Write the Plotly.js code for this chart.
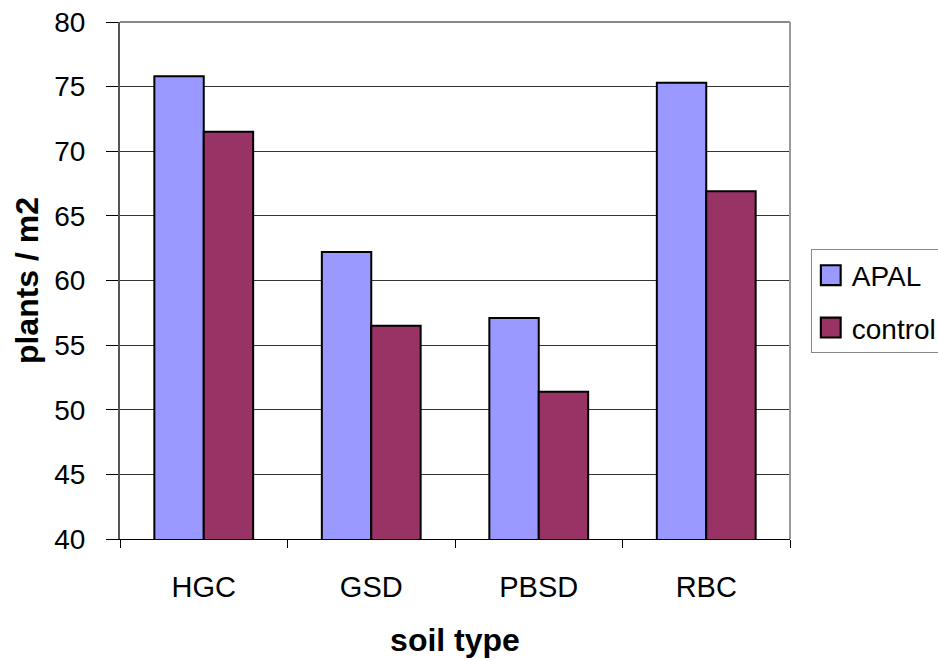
<!DOCTYPE html>
<html><head><meta charset="utf-8">
<script src="https://cdn.plot.ly/plotly-3.0.1.min.js"></script>
<style>body{margin:0;background:#fff}#c{width:938px;height:660px}</style>
</head><body><div id="c"></div>
<script>
const categories = ["HGC", "GSD", "PBSD", "RBC"];
const apal = [75.8, 62.2, 57.1, 75.3];
const control = [71.5, 56.5, 51.4, 66.9];
const seriesNames = ["APAL", "control"];

const font = {family: "Liberation Sans, Arial, sans-serif", color: "#000"};
const data = [
  {type: "bar", x: categories, y: apal, name: seriesNames[0], legendgroup: "g1",
   marker: {color: "#9999ff", line: {color: "#000", width: 2}}},
  {type: "bar", x: categories, y: control, name: seriesNames[1], legendgroup: "g2",
   marker: {color: "#993366", line: {color: "#000", width: 2}}}
];
const layout = {
  width: 938, height: 660,
  margin: {l: 120, r: 148, t: 22, b: 121, autoexpand: false},
  paper_bgcolor: "#fff", plot_bgcolor: "#fff",
  font: Object.assign({size: 28}, font),
  barmode: "group", bargap: 0.41, bargroupgap: 0,
  xaxis: {
    type: "category", tickson: "boundaries", ticks: "outside", ticklen: 8,
    tickcolor: "#000", showline: true, linecolor: "#000", linewidth: 1,
    mirror: false, showgrid: false, ticklabelstandoff: 22,
    tickfont: Object.assign({size: 29}, font),
    title: {text: "<b>soil type</b>", font: Object.assign({size: 32}, font), standoff: 26}
  },
  yaxis: {
    range: [40, 80], dtick: 5, ticks: "outside", ticklen: 12, tickcolor: "#000",
    showline: true, linecolor: "#555", linewidth: 2, mirror: false,
    showgrid: true, gridcolor: "#333", gridwidth: 1, zeroline: false,
    ticklabelstandoff: 15,
    tickfont: Object.assign({size: 28}, font),
    title: {text: "<b>plants / m2</b>", font: Object.assign({size: 32}, font), standoff: 6}
  },
  shapes: [
    {type: "line", xref: "paper", yref: "paper", x0: 0, x1: 1, y0: 1, y1: 1, line: {color: "#888", width: 2}},
    {type: "line", xref: "paper", yref: "paper", x0: 1, x1: 1, y0: 0, y1: 1, line: {color: "#999", width: 2}}
  ],
  showlegend: true,
  legend: {
    x: 1.031, xanchor: "left", y: 0.56, yanchor: "top",
    bordercolor: "#888", borderwidth: 1, bgcolor: "#fff",
    font: Object.assign({size: 28}, font), itemwidth: 30, tracegroupgap: 13
  }
};
Plotly.newPlot("c", data, layout, {displayModeBar: false, staticPlot: true}).then(function (gd) {
  // enlarge the legend swatches to match the reference's bigger squares
  gd.querySelectorAll(".legendpoints path").forEach(function (p) {
    p.setAttribute("transform", "translate(19,0) scale(1.65)");
    p.style.strokeWidth = "1.3px";
  });
});
</script></body></html>
